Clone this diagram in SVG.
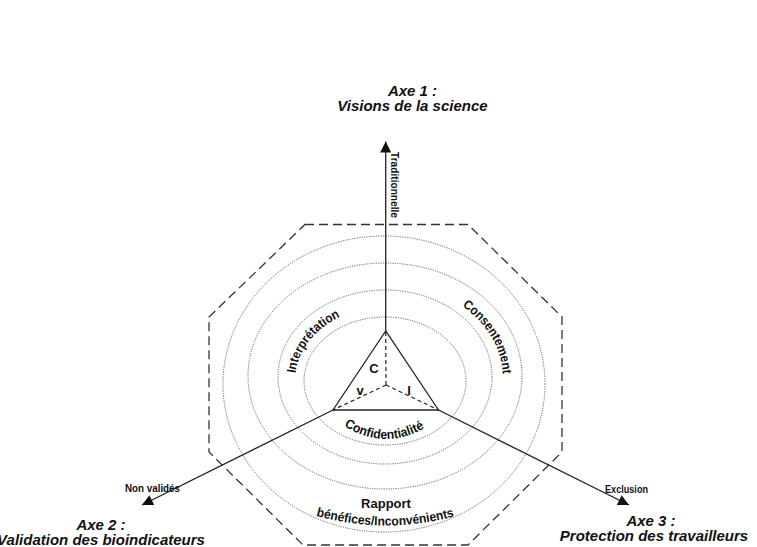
<svg xmlns="http://www.w3.org/2000/svg" width="757" height="547" viewBox="0 0 757 547">
<style>
.ax{font-family:"Liberation Sans",Arial,sans-serif;font-weight:bold;font-style:italic;font-size:15px;fill:#111;text-anchor:middle}
.lb{font-family:"Liberation Sans Narrow","Liberation Sans",Arial,sans-serif;font-weight:bold;font-size:11.5px;fill:#111}
.cv{font-family:"Liberation Sans Narrow","Liberation Sans",Arial,sans-serif;font-weight:bold;font-size:13px;fill:#111}
.tri{font-family:"Liberation Sans",Arial,sans-serif;font-weight:bold;font-size:13px;fill:#111;text-anchor:middle}
.ell{fill:none;stroke:#666;stroke-width:1;stroke-dasharray:1.2 1.2}
.oct{fill:none;stroke:#333;stroke-width:1.3;stroke-dasharray:9 5}
.axl{fill:none;stroke:#222;stroke-width:1.3}
.dsh{fill:none;stroke:#222;stroke-width:1.2;stroke-dasharray:4 3}
</style>
<defs>
<marker id="arr" markerUnits="userSpaceOnUse" viewBox="0 0 11 11" refX="11" refY="5.5" markerWidth="11" markerHeight="11" orient="auto">
<path d="M0,0 L11,5.5 L0,11 z" fill="#111"/>
</marker>
<path id="pInt" d="M 295.5,373.3 A 90 74 0 0 1 366.3,308.6"/>
<path id="pCon" d="M 462.1,306.1 A 118 95 0 0 1 501.2,394.5"/>
<path id="pConf" d="M 344,426 Q 386,452 428,426"/>
<path id="pBen" d="M 316,516 Q 386,535 456,516"/>
</defs>
<g id="octagon">
<polygon class="oct" points="305,224.5 468,224.5 562,317 562,452 468,545 303,545 209,452 209,317"/>
</g>
<g id="rings">
<ellipse class="ell" cx="385" cy="381" rx="81" ry="64"/>
<ellipse class="ell" cx="385" cy="377" rx="107" ry="87"/>
<ellipse class="ell" cx="385" cy="376" rx="137" ry="113"/>
<ellipse class="ell" cx="384" cy="384" rx="161" ry="148"/>
</g>
<g id="connectors">
<line class="axl" x1="385.7" y1="331" x2="385.7" y2="141.5" marker-end="url(#arr)"/>
<line class="axl" x1="333" y1="410" x2="142" y2="505" marker-end="url(#arr)"/>
<line class="axl" x1="438.5" y1="410" x2="629" y2="505" marker-end="url(#arr)"/>
<line class="dsh" x1="386" y1="385" x2="385.7" y2="331"/>
<line class="dsh" x1="386" y1="385" x2="333" y2="410"/>
<line class="dsh" x1="386" y1="385" x2="438.5" y2="410"/>
</g>
<g id="triangle">
<polygon points="385.7,331 333,410 438.5,410" fill="none" stroke="#222" stroke-width="1.3"/>
<text class="tri" x="374" y="373">C</text>
<text class="tri" x="360" y="395">v</text>
<text class="tri" x="409" y="395">I</text>
</g>
<g id="axis1">
<text class="ax" x="412.5" y="96">Axe 1 :</text>
<text class="ax" x="412.5" y="111">Visions de la science</text>
<text class="lb" transform="translate(390.5,152) rotate(90)" textLength="66" lengthAdjust="spacingAndGlyphs">Traditionnelle</text>
</g>
<g id="axis2">
<text class="ax" x="101" y="530">Axe 2 :</text>
<text class="ax" x="101" y="545">Validation des bioindicateurs</text>
<text class="lb" x="125" y="492" textLength="55" lengthAdjust="spacingAndGlyphs">Non validés</text>
</g>
<g id="axis3">
<text class="ax" x="651" y="526">Axe 3 :</text>
<text class="ax" x="654" y="541">Protection des travailleurs</text>
<text class="lb" x="605" y="493" textLength="43" lengthAdjust="spacingAndGlyphs">Exclusion</text>
</g>
<g id="labels">
<text class="cv"><textPath href="#pInt" textLength="75" lengthAdjust="spacingAndGlyphs">Interprétation</textPath></text>
<text class="cv"><textPath href="#pCon" textLength="82" lengthAdjust="spacingAndGlyphs">Consentement</textPath></text>
<text class="cv"><textPath href="#pConf" textLength="85" lengthAdjust="spacingAndGlyphs">Confidentialité</textPath></text>
<text class="cv" x="386" y="508" text-anchor="middle">Rapport</text>
<text class="cv"><textPath href="#pBen" textLength="140" lengthAdjust="spacingAndGlyphs">bénéfices/Inconvénients</textPath></text>
</g>
</svg>
